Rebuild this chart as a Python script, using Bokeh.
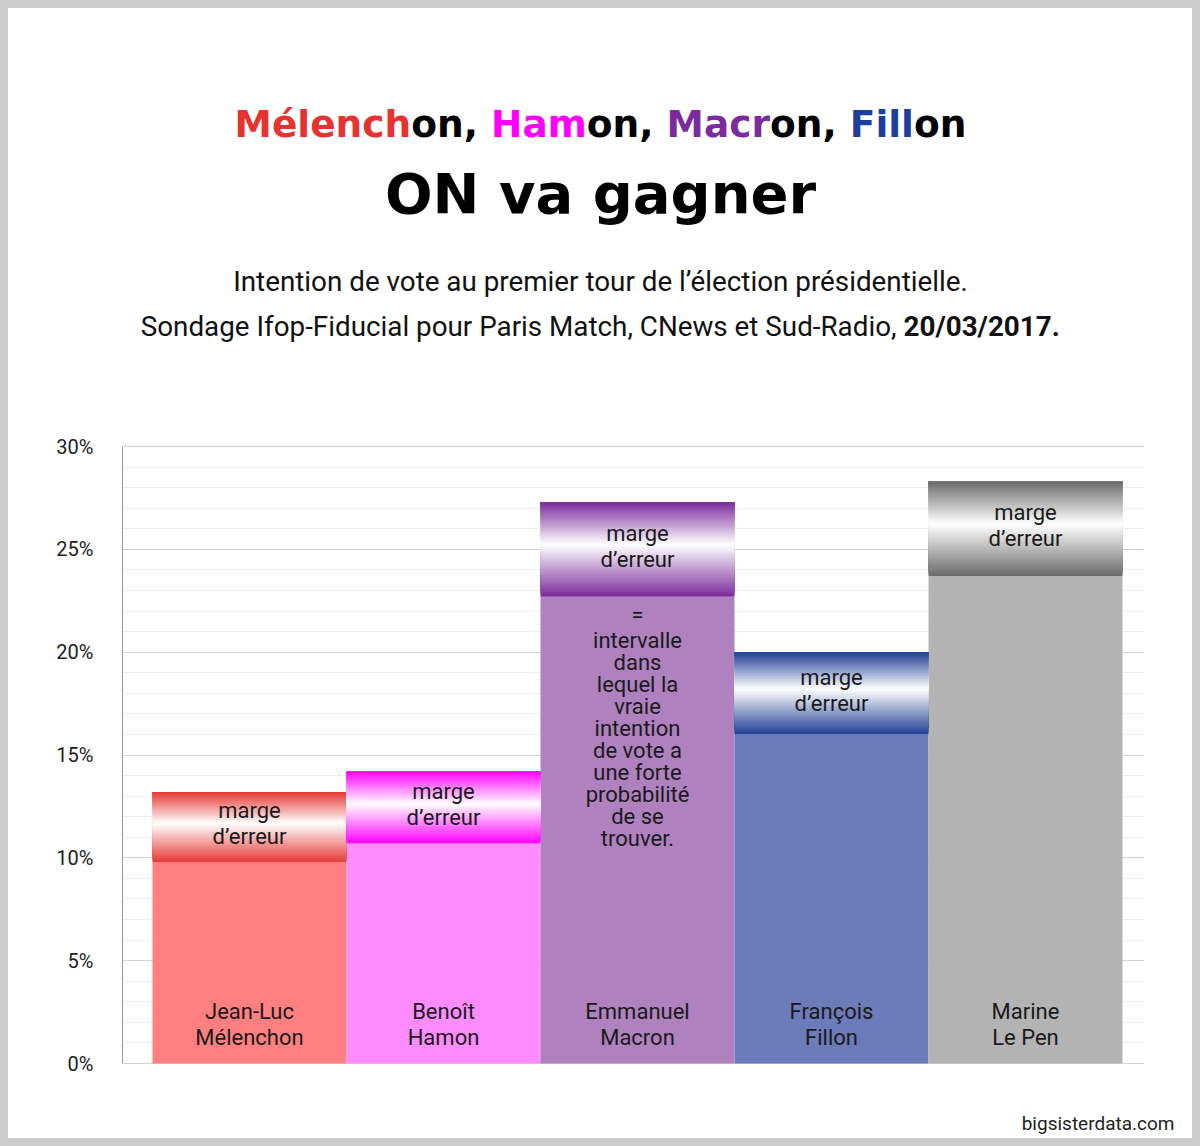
from bokeh.plotting import figure
from bokeh.layouts import column
from bokeh.models import FixedTicker, PrintfTickFormatter, Range1d, Grid
from bokeh.core.properties import value
from bokeh.embed import file_html
from bokeh.resources import INLINE

# ---------------- data ----------------
candidates = ["Jean-Luc\nMélenchon", "Benoît\nHamon", "Emmanuel\nMacron",
              "François\nFillon", "Marine\nLe Pen"]
score = [11.5, 12.5, 25.0, 18.0, 26.0]
low = [9.8, 10.7, 22.7, 16.0, 23.7]
high = [13.2, 14.2, 27.3, 20.0, 28.3]
base_colors = ["#ff8080", "#ff8cff", "#af81bf", "#6c7bb9", "#b3b3b3"]
edge_colors = ["#e53935", "#ff00ff", "#7b2b9b", "#1f3f94", "#6a6a6a"]
y_ticks = [0, 5, 10, 15, 20, 25, 30]
minor_ticks = list(range(0, 31))
marge_text = "marge\nd\u2019erreur"
note_text = ("intervalle\ndans\nlequel la\nvraie\nintention\nde vote a\n"
             "une forte\nprobabilit\u00e9\nde se\ntrouver.")
title_parts = ["M\u00e9lench", "on, ", "Ham", "on, ", "Macr", "on, ", "Fill", "on"]
title_colors = ["#e8322f", "#000000", "#ff00ff", "#000000",
                "#7b2b9e", "#000000", "#1b3f9b", "#000000"]
title_2 = "ON va gagner"
subtitle_1 = "Intention de vote au premier tour de l\u2019\u00e9lection pr\u00e9sidentielle."
subtitle_2 = "Sondage Ifop-Fiducial pour Paris Match, CNews et Sud-Radio,"
subtitle_date = "20/03/2017."
footer = "bigsisterdata.com"

# ---------------- geometry (page pixels) ----------------
PAD = 8
FIG_W, FIG_H = 1184, 1130
FRAME_L = 122                     # y-axis position
PLOT_R = 1143                     # right end of grid lines
Y30_PX, Y0_PX = 446, 1063         # page y of 30 % and 0 %
BAR_PX = 194.0
PPU = (Y0_PX - Y30_PX) / 30.0
FRAME_W = PAD + FIG_W - FRAME_L
X0 = -0.5 - 30 / BAR_PX
X1 = X0 + FRAME_W / BAR_PX
GX1 = X0 + (PLOT_R - FRAME_L) / BAR_PX
Y_BOT = -(PAD + FIG_H - Y0_PX) / PPU
Y_TOP = 30 + (Y30_PX - PAD) / PPU


def px_x(page_x):
    return X0 + (page_x - FRAME_L) / BAR_PX


def px_y(page_y):
    return (Y0_PX - page_y) / PPU


p = figure(frame_width=FRAME_W, frame_height=FIG_H,
           min_border_left=FRAME_L - PAD, min_border_right=0,
           min_border_top=0, min_border_bottom=0,
           x_range=Range1d(X0, X1), y_range=Range1d(Y_BOT, Y_TOP),
           output_backend="svg", toolbar_location=None,
           background_fill_color="white", border_fill_color="white")
p.outline_line_color = None
p.xaxis.visible = False
p.xgrid.grid_line_color = None

p.yaxis.ticker = FixedTicker(ticks=y_ticks, minor_ticks=minor_ticks)
p.yaxis.bounds = (0, 30)
p.yaxis.formatter = PrintfTickFormatter(format="%d%%")
p.yaxis.axis_line_color = "#9a9a9a"
p.yaxis.major_tick_out = 0
p.yaxis.major_tick_in = 0
p.yaxis.minor_tick_out = 0
p.yaxis.minor_tick_in = 0
p.yaxis.major_label_text_font = "Roboto"
p.yaxis.major_label_text_font_size = "20px"
p.yaxis.major_label_text_color = "#222222"
p.yaxis.major_label_standoff = 29

GRID_MAJOR, GRID_MINOR = "#d2d2d2", "#ededed"
if "cross_bounds" in Grid.properties():
    p.ygrid.cross_bounds = (X0, GX1)
    p.ygrid.grid_line_color = GRID_MAJOR
    p.ygrid.minor_grid_line_color = GRID_MINOR
else:
    p.ygrid.grid_line_color = None
    minors = [t for t in minor_ticks if t not in y_ticks]
    p.segment(x0=[X0] * len(minors), x1=[GX1] * len(minors), y0=minors,
              y1=minors, line_color=GRID_MINOR, line_width=1, level="underlay")
    p.segment(x0=[X0] * len(y_ticks), x1=[GX1] * len(y_ticks), y0=y_ticks,
              y1=y_ticks, line_color=GRID_MAJOR, line_width=1, level="underlay")

# ---------------- bars ----------------
xs = list(range(len(candidates)))
p.quad(left=[x - 0.5 for x in xs], right=[x + 0.5 for x in xs],
       bottom=[0] * len(xs), top=low, fill_color=base_colors,
       line_color=None)


def hex_to_rgb(h):
    h = h.lstrip("#")
    return tuple(int(h[i:i + 2], 16) for i in (0, 2, 4))


# error-margin band: white-centred gradient built from stacked slices
N = 40
WHITE_POS = 0.55
gl, gr, gb, gt, gc = [], [], [], [], []
for i, x in enumerate(xs):
    r0, g0, b0 = hex_to_rgb(edge_colors[i])
    for k in range(N):
        t = (k + 0.5) / N
        w = t / WHITE_POS if t < WHITE_POS else (1 - t) / (1 - WHITE_POS)
        w = max(0.0, min(1.0, w))
        col = "#%02x%02x%02x" % (round(r0 + (255 - r0) * w),
                                 round(g0 + (255 - g0) * w),
                                 round(b0 + (255 - b0) * w))
        gl.append(x - 0.5)
        gr.append(x + 0.5)
        gb.append(low[i] + (high[i] - low[i]) * k / N)
        gt.append(high[i])
        gc.append(col)
p.quad(left=gl, right=gr, bottom=gb, top=gt, fill_color=gc, line_color=None)

p.text(x=xs, y=[(a + b) / 2 + 3 / PPU for a, b in zip(low, high)],
       text=[marge_text] * len(xs), text_font=value("Roboto"),
       text_font_size="22px", text_align="center", text_baseline="middle",
       text_color="#1a1a1a", text_line_height=1.04)

p.text(x=xs, y=[39 / PPU] * len(xs), text=candidates,
       text_font=value("Roboto"), text_font_size="22px",
       text_align="center", text_baseline="middle",
       text_color="#1a1a1a", text_line_height=1.01)

p.text(x=[2], y=[low[2] - 18 / PPU], text=["="], text_font=value("Roboto"),
       text_font_size="22px", text_align="center", text_baseline="middle",
       text_color="#1a1a1a")
p.text(x=[2], y=[low[2] - 31 / PPU], text=[note_text],
       text_font=value("Roboto"), text_font_size="22px",
       text_align="center", text_baseline="top",
       text_color="#1a1a1a", text_line_height=0.88)

# ---------------- header ----------------
# approximate advance widths (em) of DejaVu Sans Bold, used to lay the
# multi-coloured title segments side by side
ADV = {"M": .995, "\u00e9": .678, "l": .343, "e": .678, "n": .712,
       "c": .593, "h": .712, "o": .687, ",": .381, " ": .348, "H": .837,
       "a": .675, "m": 1.042, "r": .493, "F": .683, "i": .343}
T1_SIZE = 37.5
seg_w = [sum(ADV.get(ch, .6) for ch in s) * T1_SIZE for s in title_parts]
cx = 600 - sum(seg_w) / 2
seg_x = []
for w in seg_w:
    seg_x.append(px_x(cx))
    cx += w
p.text(x=seg_x, y=[px_y(123)] * len(title_parts), text=title_parts,
       text_color=title_colors, text_font=value("DejaVu Sans"),
       text_font_style="bold", text_font_size="%.1fpx" % T1_SIZE,
       text_align="left", text_baseline="alphabetic")
p.text(x=[px_x(600)], y=[px_y(193)], text=[title_2],
       text_font=value("DejaVu Sans"), text_font_style="bold",
       text_font_size="56px", text_color="#000000",
       text_align="center", text_baseline="alphabetic")
p.text(x=[px_x(600)], y=[px_y(281)], text=[subtitle_1],
       text_font=value("Roboto"), text_font_size="27.8px",
       text_color="#111111", text_align="center",
       text_baseline="alphabetic")
p.text(x=[px_x(896)], y=[px_y(326)], text=[subtitle_2],
       text_font=value("Roboto"), text_font_size="27.8px",
       text_color="#111111", text_align="right",
       text_baseline="alphabetic")
p.text(x=[px_x(903)], y=[px_y(326)], text=[subtitle_date],
       text_font=value("Roboto"), text_font_style="bold",
       text_font_size="27.8px", text_color="#111111",
       text_align="left", text_baseline="alphabetic")

# ---------------- footer ----------------
p.text(x=[px_x(1174)], y=[px_y(1123)], text=[footer],
       text_font=value("Roboto"), text_font_size="19px",
       text_color="#222222", text_align="right",
       text_baseline="alphabetic")

page = column(p, spacing=0,
              styles={"background-color": "white",
                      "border": "8px solid #cccccc"})

open("out.html", "w").write(file_html(page, INLINE))
